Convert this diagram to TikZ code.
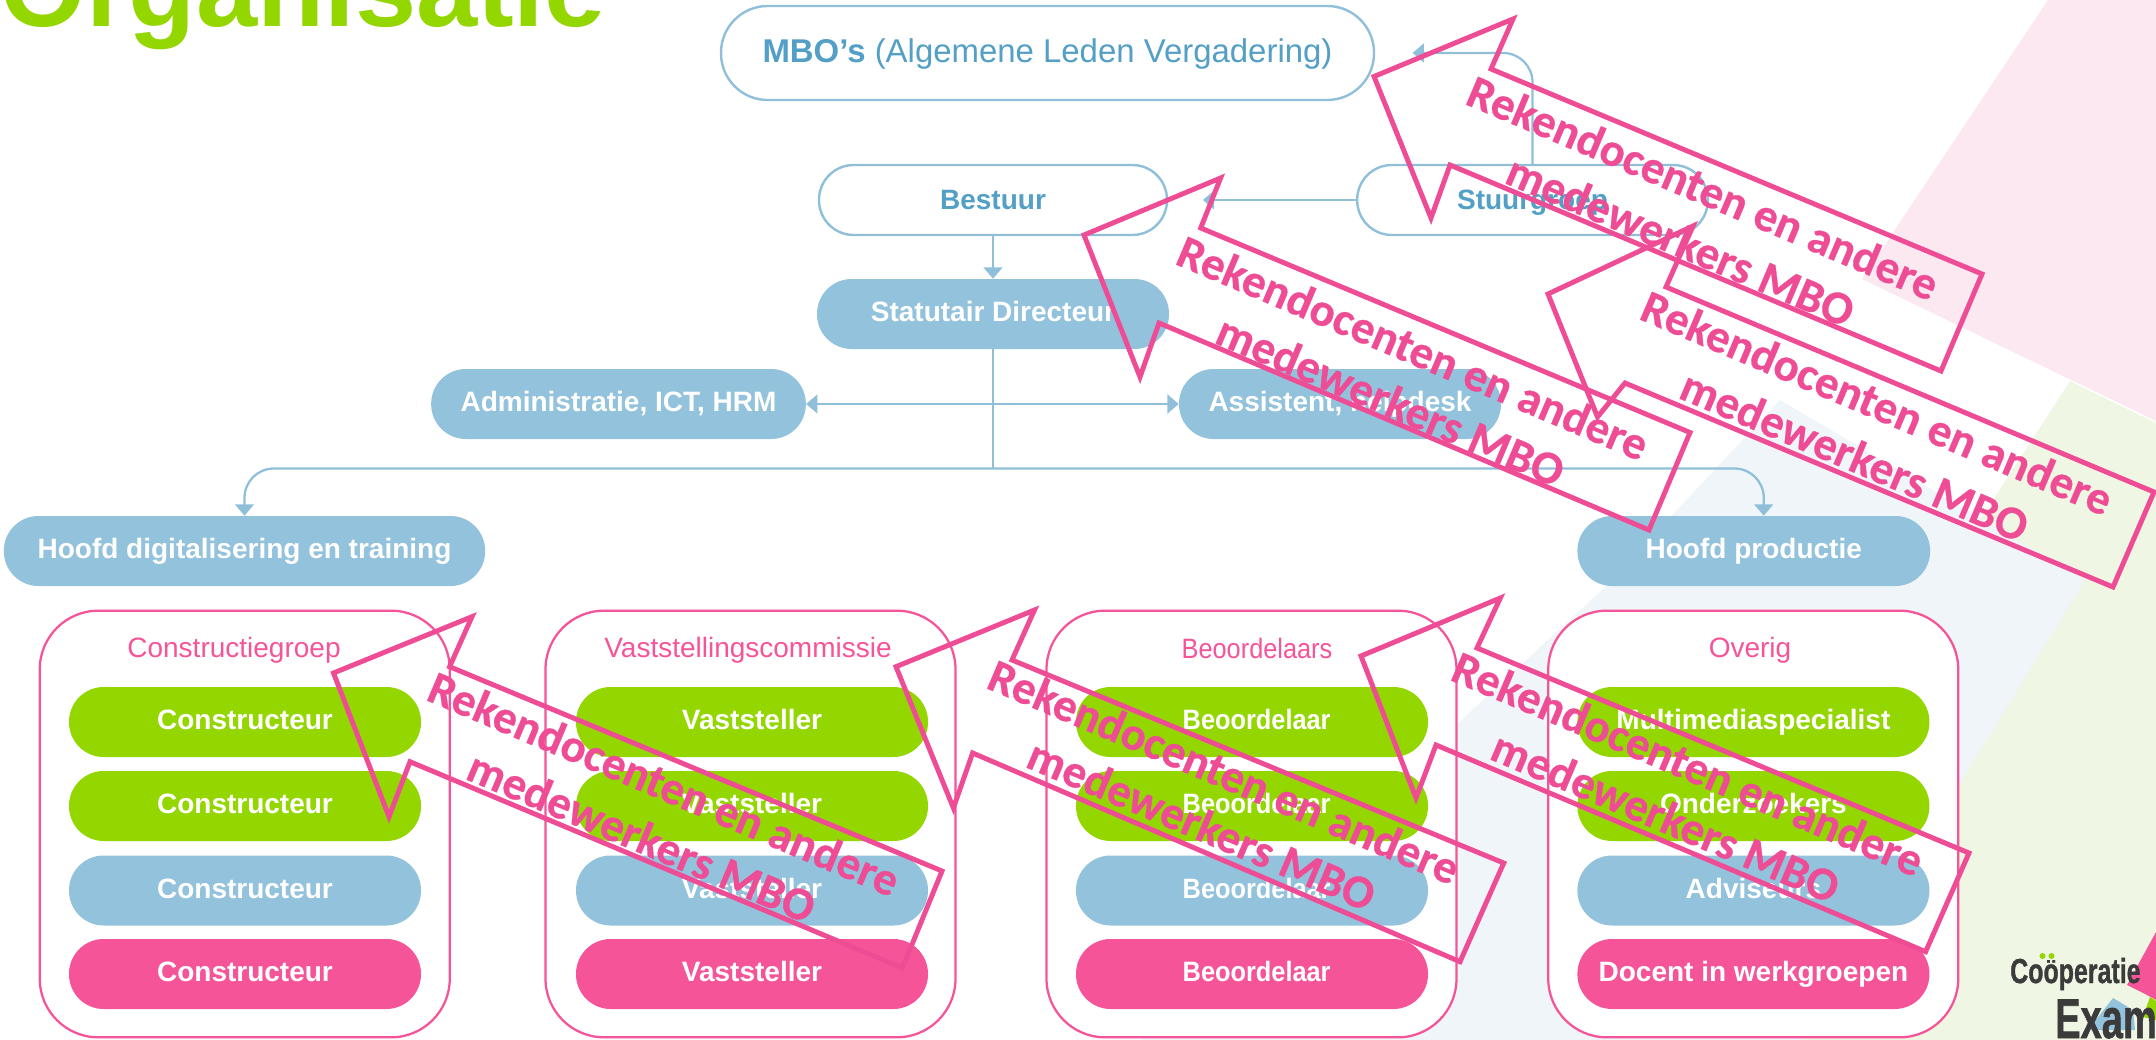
\documentclass[tikz,border=0pt]{standalone}
\usepackage{fontspec}
\setmainfont{Liberation Sans}
\newfontfamily\callfont[BoldFeatures={FakeBold=0.6}]{Carlito}
\newfontfamily\logofont[FakeBold=1.2]{Liberation Sans Bold}
\newfontfamily\tightfont[FakeStretch=0.905]{Liberation Sans}
\usetikzlibrary{arrows.meta}
\definecolor{pkbg}{HTML}{FBE8F1}
\definecolor{grbg}{HTML}{EFF6E3}
\definecolor{blbg}{HTML}{EFF5F8}
\definecolor{grn}{HTML}{94D600}
\definecolor{blu}{HTML}{92C2DC}
\definecolor{pnk}{HTML}{F65499}
\definecolor{lnk}{HTML}{8FBFD9}
\definecolor{bltxt}{HTML}{539FC6}
\definecolor{call}{HTML}{EE4D96}
\definecolor{dark}{HTML}{3B3B3B}
\tikzset{
 pill/.style={rounded corners=26pt,inner sep=0pt,font=\fontsize{21}{24}\selectfont\bfseries,text=white,minimum width=264pt,minimum height=52.5pt,text height=15pt,text depth=3.5pt},
 gp/.style={pill,fill=grn}, bp/.style={pill,fill=blu}, pp/.style={pill,fill=pnk},
 outl/.style={draw=lnk,line width=1.8pt,fill=white,inner sep=0pt,text=bltxt,font=\fontsize{21}{24}\selectfont\bfseries,text height=15pt,text depth=1pt},
 group/.style={draw=pnk,line width=1.7pt,fill=white,rounded corners=44pt,inner sep=0pt,minimum width=307.5pt,minimum height=320pt},
 glabel/.style={text=pnk,font=\fontsize{21}{24}\selectfont,inner sep=0pt,text height=15pt,text depth=4pt},
 tighttxt/.style={font=\tightfont\fontsize{21}{24}\selectfont\bfseries},
 conn/.style={draw=lnk,line width=1.7pt,-{Triangle[length=8.5pt,width=14pt,fill=lnk]}},
 callout/.style={draw=call,line width=3.7pt,line join=miter,miter limit=10},
 calltext/.style={text=call,font=\callfont\fontsize{35}{43}\selectfont\bfseries,align=center,rotate=-23,inner sep=0pt},
}
\begin{document}
\begin{tikzpicture}[x=0.75pt,y=-0.75pt]
\useasboundingbox (0,0) rectangle (2156,1039.7);
\clip (0,0) rectangle (2156,1039.7);
% background shapes
\fill[pkbg] (2048,0) -- (2156,0) -- (2156,421) -- (1862,279) -- cycle;
\fill[grbg] (2070,381) -- (2156,423) -- (2156,1040) -- (1644,1040) -- cycle;
\fill[blbg] (1780,400) -- (2085,580) -- (1802,1040) -- (1142,1040) -- (1458,723) -- (1602,590) -- cycle;
% title
\node[anchor=base east,inner sep=0pt,text=grn,font=\fontsize{82.5}{90}\selectfont\bfseries] (title) at (606,27) {Organisatie};
% top nodes
\node[outl,rounded corners=35pt,minimum width=489.75pt,minimum height=70.5pt,font=\fontsize{24.7}{28}\selectfont,text height=18pt,text depth=3pt] (mbo) at (1047.5,53) {\textbf{MBO’s} (Algemene Leden Vergadering)};
\node[outl,rounded corners=26pt,minimum width=261pt,minimum height=52.5pt] (best) at (993,200) {Bestuur};
\node[outl,rounded corners=26pt,minimum width=263pt,minimum height=52.5pt] (stuur) at (1532.5,200) {Stuurgroep};
\node[bp,minimum width=264pt] (stat) at (993,314) {Statutair Directeur};
\node[bp,minimum width=281pt] (admin) at (618.5,404) {Administratie, ICT, HRM};
\node[bp,minimum width=241.5pt] (assist) at (1340,404) {Assistent, helpdesk};
\node[bp,minimum width=361pt] (hd) at (244.5,551) {Hoofd digitalisering en training};
\node[bp,minimum width=264.5pt] (hp) at (1753.75,551) {Hoofd productie};
% groups
\node[group] (g1) at (244.75,824) {};
\node[group] (g2) at (750.5,824) {};
\node[group] (g3) at (1251.5,824) {};
\node[group] (g4) at (1753.25,824) {};
\node[glabel] (l1) at (234,650) {Constructiegroep};
\node[glabel] (l2) at (748,650) {Vaststellingscommissie};
\node[glabel,font=\tightfont\fontsize{21}{24}\selectfont] (l3) at (1257,651.5) {Beoordelaars};
\node[glabel] (l4) at (1750,650) {Overig};
% pills
\node[gp] (a1) at (245,722) {Constructeur};
\node[gp] (a2) at (245,806) {Constructeur};
\node[bp] (a3) at (245,890.5) {Constructeur};
\node[pp] (a4) at (245,974) {Constructeur};
\node[gp] (b1) at (752,722) {Vaststeller};
\node[gp] (b2) at (752,806) {Vaststeller};
\node[bp] (b3) at (752,890.5) {Vaststeller};
\node[pp] (b4) at (752,974) {Vaststeller};
\node[gp,tighttxt] (c1) at (1252,722) {\hspace*{7pt}Beoordelaar};
\node[gp,tighttxt] (c2) at (1252,806) {\hspace*{7pt}Beoordelaar};
\node[bp,tighttxt] (c3) at (1252,890.5) {\hspace*{7pt}Beoordelaar};
\node[pp,tighttxt] (c4) at (1252,974) {\hspace*{7pt}Beoordelaar};
\node[gp] (d1) at (1753.4,722) {Multimediaspecialist};
\node[gp] (d2) at (1753.4,806) {Onderzoekers};
\node[bp] (d3) at (1753.4,890.5) {Adviseurs};
\node[pp] (d4) at (1753.4,974) {Docent in werkgroepen};
% connectors
\coordinate (junc) at (993,468.5);
\draw[conn,rounded corners=22pt,shorten >=28pt] (stuur.north) |- (mbo.east);
\draw[conn,shorten >=26pt] (stuur.west) -- (best.east);
\draw[conn] (best.south) -- (stat.north);
\draw[draw=lnk,line width=1.7pt] (stat.south) -- (junc);
\draw[conn,{Triangle[length=8.5pt,width=14pt,fill=lnk]}-{Triangle[length=8.5pt,width=14pt,fill=lnk]},line width=2.2pt] (admin.east) -- (assist.west);
\draw[conn,rounded corners=22pt] (junc) -| (hd.north);
\draw[conn,rounded corners=22pt] (junc) -| ([xshift=7.5pt]hp.north);
% logo
\fill[blu] (2113,998) -- (2088,1030) -- (2135,1030) -- (2133,1010) -- cycle;
\fill[pnk] (2156,932) -- (2127,985) -- (2147,995) -- (2156,1000) -- cycle;
\fill[grn] (2150,997) -- (2156,1001) -- (2156,1020) -- (2143,1017) -- cycle;
\node[anchor=base west,inner sep=0pt,text=dark,font=\logofont\fontsize{26}{30}\selectfont,xscale=.72] (logo1) at (2010,983) {Coöperatie};
\fill[grbg] (2040,951) rectangle (2056,959.5);
\fill[grn] (2042.5,956) circle[radius=3] (2051.5,956) circle[radius=3];
\node[anchor=base west,inner sep=0pt,text=dark,font=\logofont\fontsize{42}{50}\selectfont,xscale=.68] (logo2) at (2055,1038) {Exam};
% callouts
\draw[callout] (1491,69) -- (1513,19) -- (1374,76.5) -- (1431,218) -- (1450,165) -- (1941,371) -- (1982,274) -- cycle;
\draw[callout] (1666,287) -- (1693,226) -- (1548,294) -- (1597.5,417) -- (1625,383) -- (2113,587) -- (2154,492) -- cycle;
\draw[callout] (1200.7,228) -- (1220.6,178) -- (1084,235) -- (1140,377) -- (1159,323) -- (1649,530) -- (1690,432.5) -- cycle;
\draw[callout] (449.6,666.7) -- (472,616.7) -- (333.5,673) -- (389,816.7) -- (410,761.7) -- (902.4,968) -- (942,871) -- cycle;
\draw[callout] (1012,660) -- (1034.5,610) -- (896,666.7) -- (953.4,808) -- (972.6,753) -- (1460,961.7) -- (1503.7,863) -- cycle;
\draw[callout] (1477,648) -- (1500.3,598) -- (1361,656) -- (1416,798) -- (1436,745) -- (1925.6,951.7) -- (1969,853) -- cycle;
\node[calltext] (t1) at (1692,214) {Rekendocenten en andere\\medewerkers MBO};
\node[calltext] (t2) at (1866,429) {Rekendocenten en andere\\medewerkers MBO};
\node[calltext] (t3) at (1402,374) {Rekendocenten en andere\\medewerkers MBO};
\node[calltext] (t4) at (653,810) {Rekendocenten en andere\\medewerkers MBO};
\node[calltext] (t5) at (1213,798) {Rekendocenten en andere\\medewerkers MBO};
\node[calltext] (t6) at (1677,790) {Rekendocenten en andere\\medewerkers MBO};
\end{tikzpicture}
\end{document}
